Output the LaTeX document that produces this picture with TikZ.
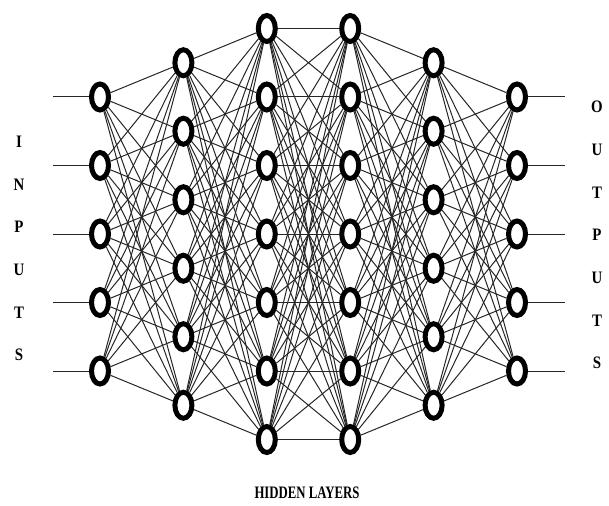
\documentclass[tikz,border=0pt]{standalone}
\usepackage{fontspec}
\setmainfont{Liberation Serif}
\usetikzlibrary{shapes.geometric,backgrounds}

\begin{document}
\begin{tikzpicture}[x=1pt,y=-1pt,
			neuron/.style={ellipse,draw=black,fill=white,line width=5pt,
				minimum width=17pt,minimum height=26pt,inner sep=0pt},
			link/.style={black!85,line width=1pt},
			letter/.style={font=\bfseries\fontsize{17.5}{17.5}\selectfont,inner sep=0pt}]

		\useasboundingbox (0,0) rectangle (609,505);

		% layers of neurons
		\foreach \L/\n/\x in {a/5/100,b/6/183.4,c/7/266.8,d/7/350.2,e/6/433.6,f/5/517}
			\foreach \i in {1,...,\n}
				\node [neuron] (\L\i) at (\x,{234+(\i-(\n+1)/2)*68.5}) {};

		\begin{scope}[on background layer]
			\foreach \A/\na/\B/\nb in {a/5/b/6,b/6/c/7,c/7/d/7,d/7/e/6,e/6/f/5}
				\foreach \i in {1,...,\na}
					\foreach \j in {1,...,\nb}
						\draw [link] (\A\i) -- (\B\j);
			\foreach \i in {1,...,5} {
				\coordinate (in\i) at (53,{234+(\i-3)*68.5});
				\coordinate (out\i) at (565,{234+(\i-3)*68.5});
				\draw [link] (in\i) -- (a\i);
				\draw [link] (f\i) -- (out\i);
			}
		\end{scope}

		% labels
		\foreach \ch [count=\k] in {I,N,P,U,T,S}
			\node [letter] (inp\k) at (19,{142+42.6*(\k-1)}) {\scalebox{0.85}[1]{\ch}};
		\foreach \ch [count=\k] in {O,U,T,P,U,T,S}
			\node [letter] (outp\k) at (597,{107+42.7*(\k-1)}) {\scalebox{0.85}[1]{\ch}};
		\node [letter] (hidden) at (307,493) {\scalebox{0.73}[1]{HIDDEN LAYERS}};

		\end{tikzpicture}
\end{document}
